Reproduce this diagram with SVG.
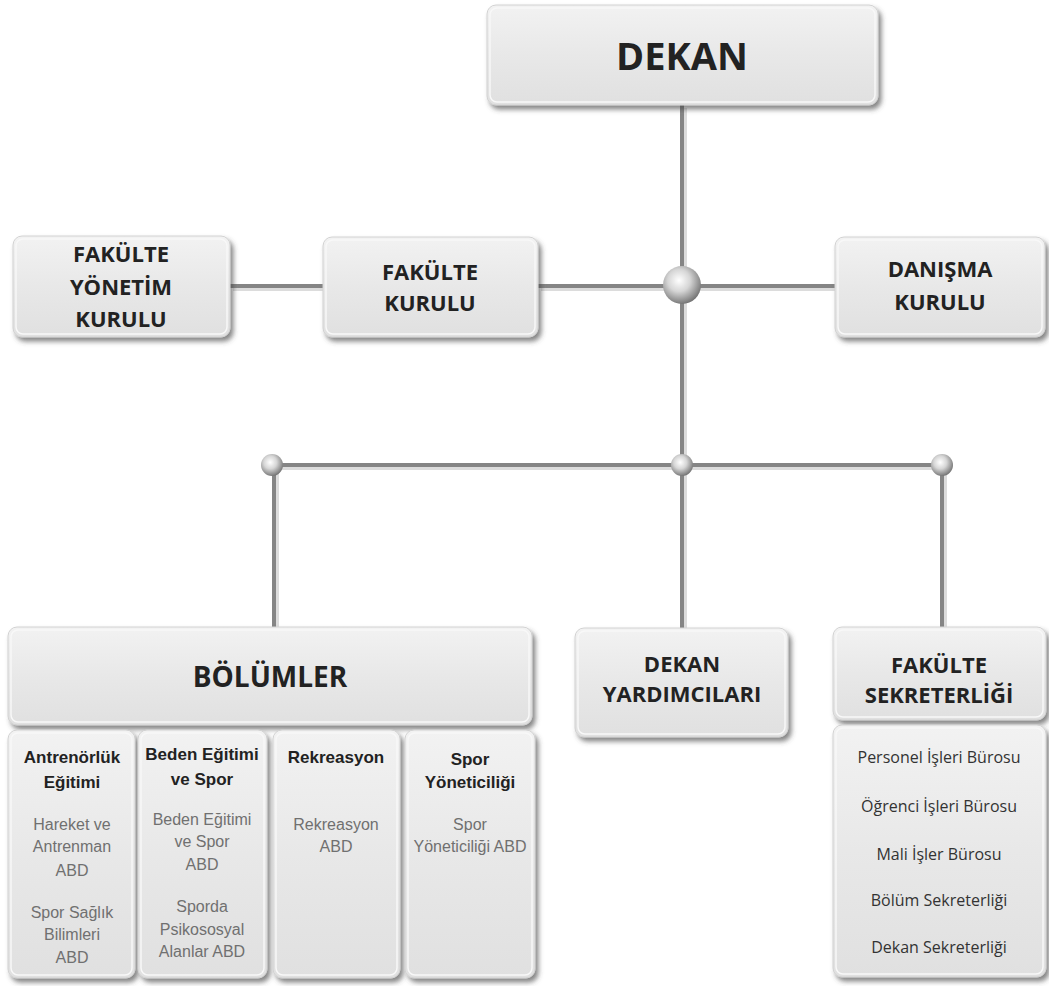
<svg xmlns="http://www.w3.org/2000/svg" width="1049" height="986" viewBox="0 0 1049 986">
<defs>
<linearGradient id="boxg" x1="0" y1="0" x2="0" y2="1">
<stop offset="0" stop-color="#f2f2f2"/>
<stop offset="0.5" stop-color="#e8e8e8"/>
<stop offset="1" stop-color="#e0e0e0"/>
</linearGradient>
<radialGradient id="ball" cx="0.42" cy="0.38" r="0.65">
<stop offset="0" stop-color="#ffffff"/>
<stop offset="0.45" stop-color="#d6d6d6"/>
<stop offset="0.85" stop-color="#8c8c8c"/>
<stop offset="1" stop-color="#6e6e6e"/>
</radialGradient>
<filter id="sh" x="-10%" y="-10%" width="125%" height="130%">
<feDropShadow dx="3" dy="4" stdDeviation="2.5" flood-color="#444" flood-opacity="0.65"/>
</filter>
</defs>
<style>
.box{fill:url(#boxg);stroke:#d2d2d2;stroke-width:1;filter:url(#sh)}
.inner{fill:none;stroke:#f8f8f8;stroke-width:1.5}
.line{stroke:#858585;stroke-width:4;fill:none}
.lsh{stroke:#dcdcdc;stroke-width:4;fill:none}
.ball{fill:url(#ball)}
.hd{font-family:"Open Sans","Noto Sans",sans-serif;font-weight:700;fill:#222;text-anchor:middle}
.sub{font-family:"Liberation Sans",Arial,sans-serif;font-weight:700;font-size:17px;fill:#222;text-anchor:middle}
.gr{font-family:"Liberation Sans",Arial,sans-serif;font-size:16px;fill:#707070;text-anchor:middle}
.it{font-family:"Open Sans","Noto Sans",sans-serif;font-size:16px;fill:#333;text-anchor:middle}
</style>
<rect width="1049" height="986" fill="#ffffff"/>

<g id="connectors">
<g transform="translate(3,3)">
<line class="lsh" x1="682" y1="105" x2="682" y2="625"/>
<line class="lsh" x1="230" y1="286" x2="323" y2="286"/>
<line class="lsh" x1="538" y1="286" x2="835" y2="286"/>
<line class="lsh" x1="272" y1="465" x2="942" y2="465"/>
<line class="lsh" x1="274" y1="465" x2="274" y2="624"/>
<line class="lsh" x1="942" y1="465" x2="942" y2="624"/>
</g>
<line class="line" x1="682" y1="105" x2="682" y2="628"/>
<line class="line" x1="230" y1="286" x2="323" y2="286"/>
<line class="line" x1="538" y1="286" x2="835" y2="286"/>
<line class="line" x1="272" y1="465" x2="942" y2="465"/>
<line class="line" x1="274" y1="465" x2="274" y2="627"/>
<line class="line" x1="942" y1="465" x2="942" y2="627"/>
<circle class="ball" cx="682" cy="285" r="19"/>
<circle class="ball" cx="272" cy="465" r="11"/>
<circle class="ball" cx="682" cy="465" r="11"/>
<circle class="ball" cx="942" cy="465" r="11"/>
</g>

<g id="dekan">
<rect class="box" x="487" y="5" width="391" height="100" rx="9"/>
<rect class="inner" x="490" y="8" width="385" height="94" rx="7"/>
<text class="hd" x="682" y="70" font-size="38">DEKAN</text>
</g>

<g id="fakulte-yonetim-kurulu">
<rect class="box" x="13" y="236" width="217" height="101" rx="9"/>
<rect class="inner" x="16" y="239" width="211" height="95" rx="7"/>
<text class="hd" x="121" y="262" font-size="22">FAKÜLTE</text>
<text class="hd" x="121" y="295" font-size="22">YÖNETİM</text>
<text class="hd" x="121" y="327" font-size="22">KURULU</text>
</g>

<g id="fakulte-kurulu">
<rect class="box" x="323" y="237" width="215" height="100" rx="9"/>
<rect class="inner" x="326" y="240" width="209" height="94" rx="7"/>
<text class="hd" x="430" y="280" font-size="22">FAKÜLTE</text>
<text class="hd" x="430" y="311" font-size="22">KURULU</text>
</g>

<g id="danisma-kurulu">
<rect class="box" x="835" y="237" width="210" height="100" rx="9"/>
<rect class="inner" x="838" y="240" width="204" height="94" rx="7"/>
<text class="hd" x="940" y="277" font-size="22">DANIŞMA</text>
<text class="hd" x="940" y="310" font-size="22">KURULU</text>
</g>

<g id="bolumler">
<rect class="box" x="8" y="627" width="524" height="98" rx="9"/>
<rect class="inner" x="11" y="630" width="518" height="92" rx="7"/>
<text class="hd" x="270" y="687" font-size="28">BÖLÜMLER</text>
</g>

<g id="antrenorluk">
<rect class="box" x="8" y="730" width="127" height="248" rx="9"/>
<rect class="inner" x="11" y="733" width="121" height="242" rx="7"/>
<text class="sub" x="72" y="763">Antrenörlük</text>
<text class="sub" x="72" y="788">Eğitimi</text>
<text class="gr" x="72" y="830">Hareket ve</text>
<text class="gr" x="72" y="852">Antrenman</text>
<text class="gr" x="72" y="876">ABD</text>
<text class="gr" x="72" y="918">Spor Sağlık</text>
<text class="gr" x="72" y="940">Bilimleri</text>
<text class="gr" x="72" y="963">ABD</text>
</g>

<g id="beden-egitimi">
<rect class="box" x="138" y="730" width="129" height="248" rx="9"/>
<rect class="inner" x="141" y="733" width="123" height="242" rx="7"/>
<text class="sub" x="202" y="760">Beden Eğitimi</text>
<text class="sub" x="202" y="785">ve Spor</text>
<text class="gr" x="202" y="825">Beden Eğitimi</text>
<text class="gr" x="202" y="847">ve Spor</text>
<text class="gr" x="202" y="870">ABD</text>
<text class="gr" x="202" y="912">Sporda</text>
<text class="gr" x="202" y="935">Psikososyal</text>
<text class="gr" x="202" y="957">Alanlar ABD</text>
</g>

<g id="rekreasyon">
<rect class="box" x="273" y="730" width="127" height="248" rx="9"/>
<rect class="inner" x="276" y="733" width="121" height="242" rx="7"/>
<text class="sub" x="336" y="763">Rekreasyon</text>
<text class="gr" x="336" y="830">Rekreasyon</text>
<text class="gr" x="336" y="852">ABD</text>
</g>

<g id="spor-yoneticiligi">
<rect class="box" x="405" y="730" width="130" height="248" rx="9"/>
<rect class="inner" x="408" y="733" width="124" height="242" rx="7"/>
<text class="sub" x="470" y="765">Spor</text>
<text class="sub" x="470" y="788">Yöneticiliği</text>
<text class="gr" x="470" y="830">Spor</text>
<text class="gr" x="470" y="852">Yöneticiliği ABD</text>
</g>

<g id="dekan-yardimcilari">
<rect class="box" x="575" y="628" width="213" height="109" rx="9"/>
<rect class="inner" x="578" y="631" width="207" height="103" rx="7"/>
<text class="hd" x="682" y="672" font-size="22">DEKAN</text>
<text class="hd" x="682" y="702" font-size="22">YARDIMCILARI</text>
</g>

<g id="fakulte-sekreterligi">
<rect class="box" x="833" y="627" width="213" height="93" rx="9"/>
<rect class="inner" x="836" y="630" width="207" height="87" rx="7"/>
<text class="hd" x="939" y="673" font-size="22">FAKÜLTE</text>
<text class="hd" x="939" y="703" font-size="22">SEKRETERLİĞİ</text>
</g>

<g id="sekreterlik-birimleri">
<rect class="box" x="833" y="725" width="213" height="252" rx="9"/>
<rect class="inner" x="836" y="728" width="207" height="246" rx="7"/>
<text class="it" x="939" y="763">Personel İşleri Bürosu</text>
<text class="it" x="939" y="812">Öğrenci İşleri Bürosu</text>
<text class="it" x="939" y="860">Mali İşler Bürosu</text>
<text class="it" x="939" y="906">Bölüm Sekreterliği</text>
<text class="it" x="939" y="953">Dekan Sekreterliği</text>
</g>
</svg>
